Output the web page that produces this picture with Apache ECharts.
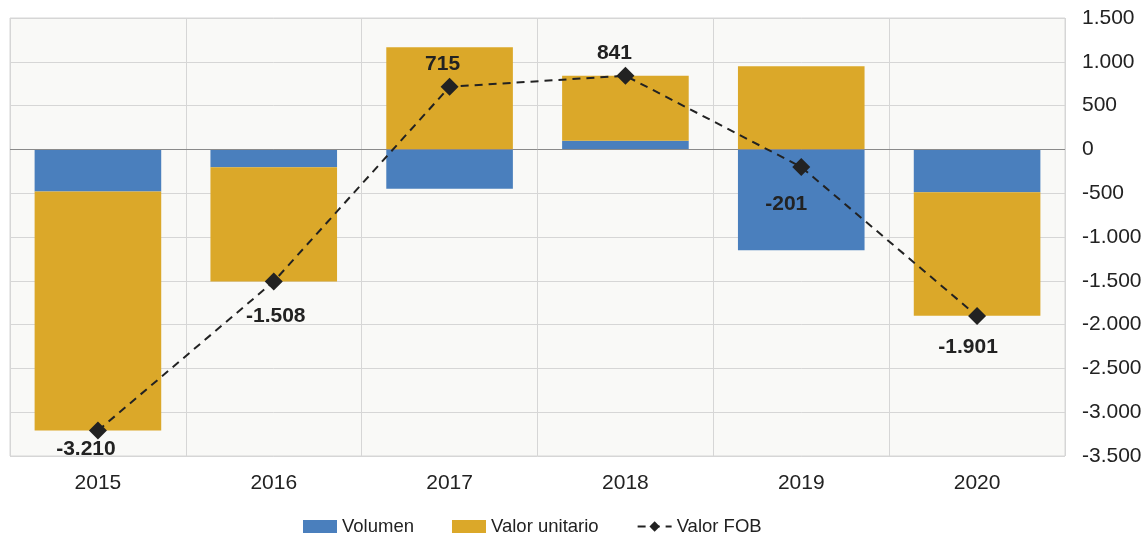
<!DOCTYPE html>
<html>
<head>
<meta charset="utf-8">
<script src="https://cdn.jsdelivr.net/npm/echarts@6/dist/echarts.min.js"></script>
<style>
  html, body { margin: 0; padding: 0; background: #fff; }
  #chart { width: 1145px; height: 535px; }
</style>
</head>
<body>
<div id="chart"></div>
<script>
  // datos
  var years = ['2015', '2016', '2017', '2018', '2019', '2020'];
  var volumen = [-480, -205, -450, 100, -1150, -490];
  var valorUnitario = [-2730, -1303, 1165, 741, 950, -1410];
  var valorFob = [-3210, -1508, 715, 841, -201, -1901];

  // posicion de cada etiqueta del valor FOB
  var labelPos = [
    { position: 'bottom', offset: [-12, -6] },
    { position: 'bottom', offset: [2, 10] },
    { position: 'top', offset: [-7, 2] },
    { position: 'top', offset: [-11, 2] },
    { position: 'bottom', offset: [-15, 13] },
    { position: 'bottom', offset: [-9, 7] }
  ];

  function fmt (v) {
    var s = Math.abs(v).toString().replace(/\B(?=(\d{3})+(?!\d))/g, '.');
    return (v < 0 ? '-' : '') + s;
  }

  var fobData = valorFob.map(function (v, i) {
    return { value: v, label: labelPos[i] };
  });

  var myChart = echarts.init(document.getElementById('chart'));
  var font = 'Liberation Sans, Arial, sans-serif';
  var option = {
    animation: false,
    textStyle: { fontFamily: font },
    grid: {
      left: 10, right: 80, top: 18, bottom: 79,
      show: true,
      backgroundColor: '#f9f9f7',
      borderColor: '#d6d6d6',
      borderWidth: 1
    },
    legend: {
      top: 512,
      left: 298,
      itemWidth: 34,
      itemHeight: 13,
      itemGap: 38,
      textStyle: { fontSize: 18.5, color: '#222', fontFamily: font },
      data: [
        { name: 'Volumen', icon: 'rect' },
        { name: 'Valor unitario', icon: 'rect' },
        'Valor FOB'
      ]
    },
    xAxis: {
      type: 'category',
      data: years,
      axisLine: { show: false },
      axisTick: { show: false },
      axisLabel: { fontSize: 21, color: '#222', margin: 17 },
      splitLine: { show: true, lineStyle: { color: '#d6d6d6' } }
    },
    yAxis: {
      type: 'value',
      position: 'right',
      min: -3500,
      max: 1500,
      interval: 500,
      axisLine: { show: false },
      axisTick: { show: false },
      axisLabel: {
        fontSize: 21, color: '#222', margin: 17,
        formatter: function (v) { return fmt(v); }
      },
      splitLine: { show: true, lineStyle: { color: '#d6d6d6' } }
    },
    series: [
      {
        name: 'Volumen',
        type: 'bar',
        stack: 'total',
        barWidth: '72%',
        itemStyle: { color: '#4a7fbd' },
        // linea del cero
        markLine: {
          silent: true,
          symbol: 'none',
          label: { show: false },
          lineStyle: { color: '#8a8a8a', width: 1, type: 'solid' },
          data: [{ yAxis: 0 }]
        },
        data: volumen
      },
      {
        name: 'Valor unitario',
        type: 'bar',
        stack: 'total',
        barWidth: '72%',
        itemStyle: { color: '#dba829' },
        data: valorUnitario
      },
      {
        name: 'Valor FOB',
        type: 'line',
        symbol: 'diamond',
        symbolSize: 18,
        itemStyle: { color: '#222' },
        lineStyle: { color: '#222', width: 2, type: [8, 6] },
        label: {
          show: true,
          fontSize: 21,
          fontWeight: 'bold',
          color: '#222',
          formatter: function (p) { return fmt(p.value); }
        },
        z: 5,
        data: fobData
      }
    ]
  };
  myChart.setOption(option);
</script>
</body>
</html>
